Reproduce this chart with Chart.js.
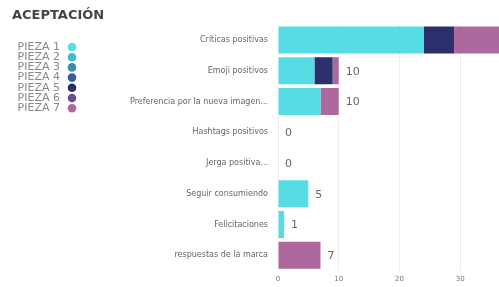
<!DOCTYPE html>
<html>
<head>
<meta charset="utf-8">
<script src="https://cdn.jsdelivr.net/npm/chart.js@4.4.0/dist/chart.umd.min.js"></script>
<style>
  html, body { margin: 0; padding: 0; background: #fff; }
  #wrap { width: 499px; height: 287px; position: relative; }
</style>
</head>
<body>
<div id="wrap"><canvas id="aceptacion"></canvas></div>
<script>
// categorias (eje Y)
const categorias = [
  "Críticas positivas",
  "Emoji positivos",
  "Preferencia por la nueva imagen...",
  "Hashtags positivos",
  "Jerga positiva...",
  "Seguir consumiendo",
  "Felicitaciones",
  "respuestas de la marca"
];

// valores por pieza
const pieza1 = [24, 6, 7, 0, 0, 5, 1, 0];
const pieza2 = [0, 0, 0, 0, 0, 0, 0, 0];
const pieza3 = [0, 0, 0, 0, 0, 0, 0, 0];
const pieza4 = [0, 0, 0, 0, 0, 0, 0, 0];
const pieza5 = [5, 3, 0, 0, 0, 0, 0, 0];
const pieza6 = [0, 0, 0, 0, 0, 0, 0, 0];
const pieza7 = [8, 1, 3, 0, 0, 0, 0, 7];

const piezas = ["PIEZA 1", "PIEZA 2", "PIEZA 3", "PIEZA 4", "PIEZA 5", "PIEZA 6", "PIEZA 7"];
const colores = ["#55dde3", "#3fbccb", "#3a8faa", "#3d5c9c", "#2b2f6c", "#6b4c8c", "#ad699d"];
const valores = [pieza1, pieza2, pieza3, pieza4, pieza5, pieza6, pieza7];

// etiquetas de total al final de cada barra
const totales = {
  id: "totales",
  afterDatasetsDraw(chart) {
    const ctx = chart.ctx;
    const x = chart.scales.x, y = chart.scales.y;
    ctx.save();
    ctx.font = "11px 'DejaVu Sans'";
    ctx.fillStyle = "#666";
    ctx.textAlign = "left";
    ctx.textBaseline = "middle";
    categorias.forEach((c, i) => {
      const total = valores.reduce((s, v) => s + v[i], 0);
      ctx.fillText(String(total), x.getPixelForValue(total) + 7, y.getPixelForValue(i) + 1);
    });
    ctx.restore();
  }
};

// leyenda: texto y luego circulo
const leyenda = {
  id: "leyenda",
  afterDraw(chart) {
    const ctx = chart.ctx;
    ctx.save();
    ctx.font = "11px 'DejaVu Sans'";
    ctx.textAlign = "right";
    ctx.textBaseline = "middle";
    piezas.forEach((p, i) => {
      const yy = 47 + i * 10.2;
      ctx.fillStyle = "#888";
      ctx.fillText(p, 60, yy);
      ctx.beginPath();
      ctx.arc(72, yy, 4.3, 0, Math.PI * 2);
      ctx.fillStyle = colores[i];
      ctx.fill();
    });
    ctx.restore();
  }
};

new Chart(document.getElementById("aceptacion"), {
  type: "bar",
  data: {
    labels: categorias,
    datasets: piezas.map((p, i) => ({
      label: p,
      data: valores[i],
      backgroundColor: colores[i],
      borderWidth: 0,
      barPercentage: 0.88,
      categoryPercentage: 1
    }))
  },
  options: {
    indexAxis: "y",
    responsive: true,
    maintainAspectRatio: false,
    animation: false,
    layout: { padding: { left: 12, right: 0, top: 0, bottom: 0 } },
    plugins: {
      legend: { display: false },
      tooltip: { enabled: false },
      title: {
        display: true,
        text: "ACEPTACIÓN",
        align: "start",
        color: "#444",
        font: { family: "DejaVu Sans", size: 13, weight: "bold" },
        padding: { top: 8, bottom: 1 }
      }
    },
    scales: {
      x: {
        stacked: true,
        min: 0,
        max: 36.4,
        border: { display: false },
        grid: { color: "#ececec", drawTicks: false },
        ticks: {
          stepSize: 10,
          includeBounds: false,
          padding: 4,
          color: "#777",
          font: { family: "DejaVu Sans", size: 7 }
        }
      },
      y: {
        stacked: true,
        border: { display: false },
        grid: { display: false },
        afterFit(s) { s.width = 266; },
        ticks: {
          color: "#666",
          padding: 2,
          font: { family: "DejaVu Sans", size: 8 }
        }
      }
    }
  },
  plugins: [totales, leyenda]
});
</script>
</body>
</html>
